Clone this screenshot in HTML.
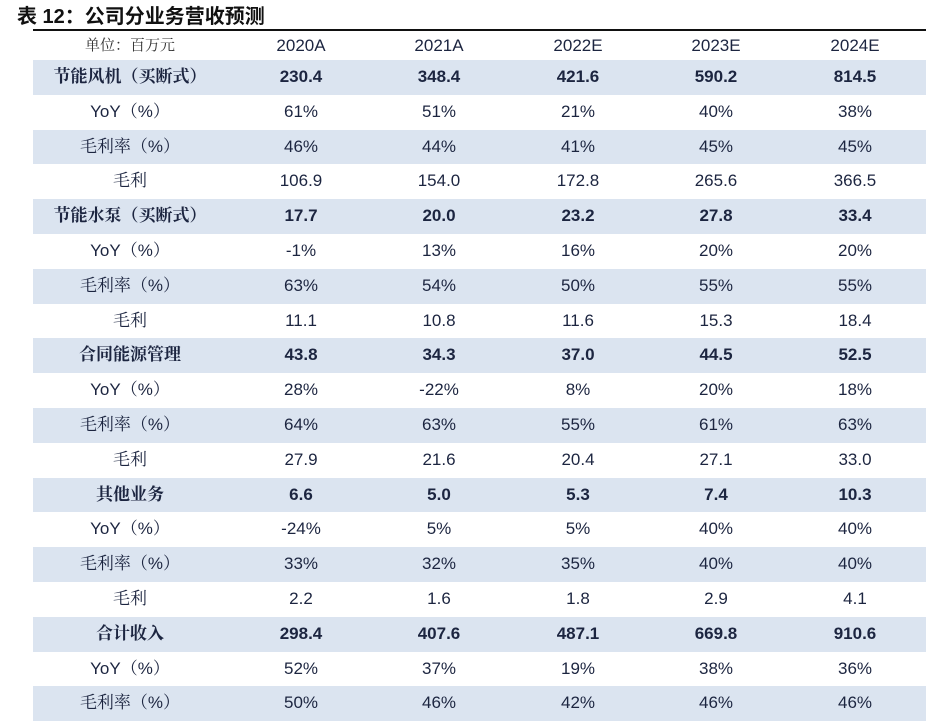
<!DOCTYPE html>
<html><head><meta charset="utf-8"><style>
body{margin:0;width:926px;height:718px;background:#fff;overflow:hidden;font-family:"Liberation Sans","Noto Sans CJK SC",sans-serif;color:#1c2540;}
#title{position:absolute;left:17px;top:4px;line-height:26px;font-family:"Liberation Sans","Noto Sans CJK SC",sans-serif;font-weight:bold;font-size:20px;color:#111;}
#tbl{position:absolute;left:33px;top:29px;width:893px;border-top:2px solid #111;}
.row{position:absolute;left:0;width:893px;height:34.8px;}
.row.shade{background:#dbe4f0;}
.c{position:absolute;top:0;height:100%;line-height:34.8px;text-align:center;font-size:17px;white-space:nowrap;}
.lab{font-family:"Liberation Sans","Noto Serif CJK SC",serif;}
.b{font-weight:bold;}
</style></head><body>
<div id="title">表 12：公司分业务营收预测</div>
<div id="tbl"></div>
<script>
const years=["2020A","2021A","2022E","2023E","2024E"];
const rows=[
["节能风机（买断式）",["230.4","348.4","421.6","590.2","814.5"],1],
["YoY（%）",["61%","51%","21%","40%","38%"],0],
["毛利率（%）",["46%","44%","41%","45%","45%"],0],
["毛利",["106.9","154.0","172.8","265.6","366.5"],0],
["节能水泵（买断式）",["17.7","20.0","23.2","27.8","33.4"],1],
["YoY（%）",["-1%","13%","16%","20%","20%"],0],
["毛利率（%）",["63%","54%","50%","55%","55%"],0],
["毛利",["11.1","10.8","11.6","15.3","18.4"],0],
["合同能源管理",["43.8","34.3","37.0","44.5","52.5"],1],
["YoY（%）",["28%","-22%","8%","20%","18%"],0],
["毛利率（%）",["64%","63%","55%","61%","63%"],0],
["毛利",["27.9","21.6","20.4","27.1","33.0"],0],
["其他业务",["6.6","5.0","5.3","7.4","10.3"],1],
["YoY（%）",["-24%","5%","5%","40%","40%"],0],
["毛利率（%）",["33%","32%","35%","40%","40%"],0],
["毛利",["2.2","1.6","1.8","2.9","4.1"],0],
["合计收入",["298.4","407.6","487.1","669.8","910.6"],1],
["YoY（%）",["52%","37%","19%","38%","36%"],0],
["毛利率（%）",["50%","46%","42%","46%","46%"],0]];
const tbl=document.getElementById('tbl');
const centers=[97,268,406,545,683,822];
function cell(parent,text,i,cls){
  const c=document.createElement('div');
  c.className='c '+cls;
  c.style.left=(centers[i]-90)+'px';
  c.style.width='180px';
  c.textContent=text;
  parent.appendChild(c);return c;
}
const h=document.createElement('div');
h.className='row';h.style.top='0px';h.style.height='29px';


tbl.appendChild(h);
const hu=cell(h,'单位：百万元',0,'lab');hu.style.fontSize='15px';hu.style.color='#333';hu.style.lineHeight='29px';


years.forEach((y,i)=>{const c=cell(h,y,i+1,'');c.style.lineHeight='29px';

});
rows.forEach((r,k)=>{
  const d=document.createElement('div');
  d.className='row'+(k%2===0?' shade':'');
  d.style.top=(29+k*34.8)+'px';
  
  
  tbl.appendChild(d);
  const l=cell(d,r[0],0,'lab'+(r[2]?' b':''));
  
  
  r[1].forEach((v,i)=>{const c=cell(d,v,i+1,r[2]?'b':'');
  
  });
});
</script>
</body></html>
